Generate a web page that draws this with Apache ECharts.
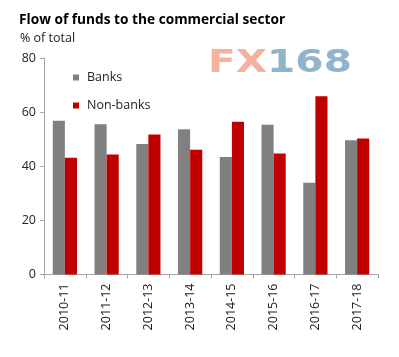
<!DOCTYPE html>
<html>
<head>
<meta charset="utf-8">
<script src="https://cdn.jsdelivr.net/npm/echarts@6/dist/echarts.min.js"></script>
<style>html,body{margin:0;padding:0;background:#fff;}#c{width:399px;height:357px;}</style>
</head>
<body>
<div id="c"></div>
<script>
var categories = ['2010-11','2011-12','2012-13','2013-14','2014-15','2015-16','2016-17','2017-18'];
var banks = [56.8, 55.5, 48.2, 53.7, 43.4, 55.3, 33.9, 49.6];
var nonBanks = [43.1, 44.3, 51.7, 46.1, 56.4, 44.7, 65.9, 50.3];
var yTicks = [0, 20, 40, 60, 80];

var FONT = 'Open Sans';
var chart = echarts.init(document.getElementById('c'));
chart.setOption({
  animation: false,
  backgroundColor: '#fff',
  title: [
    {text: 'Flow of funds to the commercial sector', left: 14, top: 8,
     textStyle: {fontFamily: FONT, fontSize: 13.7, fontWeight: 'bold', color: '#000'}},
    {text: '% of total', left: 15, top: 27,
     textStyle: {fontFamily: FONT, fontSize: 12.5, fontWeight: 'normal', color: '#222'}}
  ],
  graphic: [{
    type: 'text', x: 208, y: 48, scaleX: 1.27, z: 0, silent: true,
    style: {
      rich: {
        a: {fill: '#f4b29c', fontSize: 32, fontWeight: 'bold', fontFamily: 'DejaVu Sans'},
        b: {fill: '#92b3cc', fontSize: 32, fontWeight: 'bold', fontFamily: 'DejaVu Sans'}
      },
      text: '{a|FX}{b|168}',
      verticalAlign: 'top'
    }
  }],
  legend: {
    orient: 'vertical', left: 68, top: 66, itemWidth: 6, itemHeight: 6, itemGap: 15,
    icon: 'rect',
    textStyle: {fontFamily: FONT, fontSize: 12.5, color: '#222', padding: [0,0,0,3]},
    data: ['Banks', 'Non-banks']
  },
  grid: {left: 44, right: 21, top: 58, bottom: 82.5},
  xAxis: {
    type: 'category', data: categories,
    axisLine: {lineStyle: {color: '#a6a6a6'}},
    axisTick: {show: true, length: 4, alignWithLabel: false, lineStyle: {color: '#a6a6a6'}},
    axisLabel: {rotate: 90, margin: 9, fontFamily: FONT, fontSize: 12.5, color: '#222'}
  },
  yAxis: {
    type: 'value', min: 0, max: 80, interval: 20,
    axisLine: {show: true, lineStyle: {color: '#a6a6a6'}},
    axisTick: {show: true, length: 4, lineStyle: {color: '#a6a6a6'}},
    splitLine: {show: false},
    axisLabel: {margin: 8, fontFamily: FONT, fontSize: 12.5, color: '#222',
      formatter: function (v) { return yTicks.indexOf(v) >= 0 ? String(v) : ''; }}
  },
  series: [
    {name: 'Banks', type: 'bar', data: banks, itemStyle: {color: '#808080'},
     barGap: '0%', barCategoryGap: '42%'},
    {name: 'Non-banks', type: 'bar', data: nonBanks, itemStyle: {color: '#c00000'},
     barGap: '0%', barCategoryGap: '42%'}
  ]
});
</script>
</body>
</html>
